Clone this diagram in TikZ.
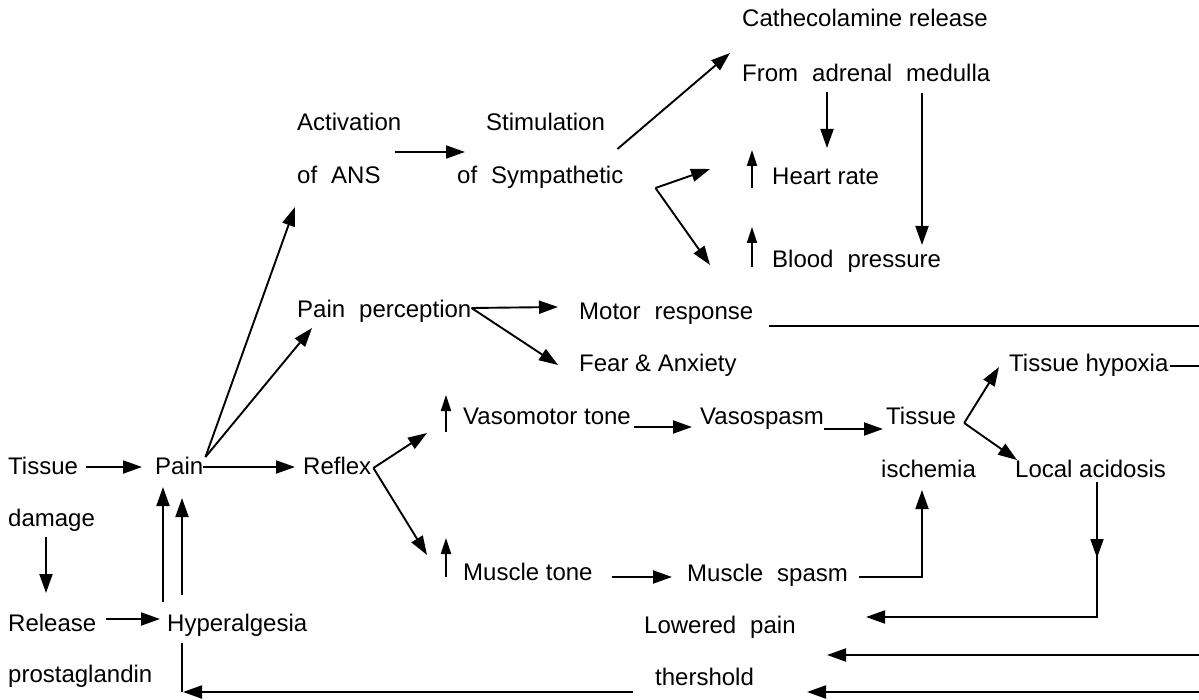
\documentclass[tikz,border=0pt]{standalone}
\usepackage{fontspec}
\setmainfont{Liberation Sans}
\usetikzlibrary{arrows.meta,calc}
\newcommand{\wsp}{\hspace{14pt}}
\begin{document}
\begin{tikzpicture}[x=1pt,y=-1pt,
  txt/.style={anchor=base west,inner sep=0pt,font=\fontsize{24pt}{28pt}\selectfont},
  ln/.style={line width=1.9pt},
  arr/.style={line width=1.9pt,-{Triangle[length=19pt,width=13pt]}},
  uparr/.style={line width=1.9pt,-{Triangle[length=16pt,width=10pt]}}]
\useasboundingbox (0,0) rectangle (1199,700);
% nodes
\node[txt] (tis1) at (8,474) {Tissue};
\node[txt] (pain) at (155,474) {Pain};
\node[txt] (reflex) at (303,474) {Reflex};
\node[txt] (damage) at (8,526) {damage};
\node[txt] (release) at (8,631) {Release};
\node[txt] (hyper) at (167,631) {Hyperalgesia};
\node[txt] (prosta) at (8,682) {prostaglandin};
\node[txt] (act) at (297,131) {Activation};
\node[txt] (stim) at (486,131) {Stimulation};
\node[txt] (ans) at (297,184) {of\wsp ANS};
\node[txt] (symp) at (457,184) {of\wsp Sympathetic};
\node[txt] (cat) at (742,27) {Cathecolamine release};
\node[txt] (from) at (742,82) {From\wsp adrenal\wsp medulla};
\node[txt] (heart) at (772,185) {Heart rate};
\node[txt] (blood) at (772,268) {Blood\wsp pressure};
\node[txt] (perc) at (297,318) {Pain\wsp perception};
\node[txt] (motor) at (579,320) {Motor\wsp response};
\node[txt] (fear) at (579,372) {Fear \& Anxiety};
\node[txt] (hyp) at (1009,372) {Tissue hypoxia};
\node[txt] (vaso) at (463,424) {Vasomotor tone};
\node[txt] (vspasm) at (700,424) {Vasospasm};
\node[txt] (tis2) at (886,424) {Tissue};
\node[txt] (isch) at (881,477) {ischemia};
\node[txt] (acid) at (1015,477) {Local acidosis};
\node[txt] (mtone) at (463,580) {Muscle tone};
\node[txt] (mspasm) at (687,581) {Muscle\wsp spasm};
\node[txt] (lowered) at (644,633) {Lowered\wsp pain};
\node[txt] (thresh) at (655,685) {thershold};
% free ends at the right margin
\coordinate (e1) at (1199,326);
\coordinate (e2) at (1199,366);
\coordinate (e3) at (1199,655);
\coordinate (e4) at (1199,692);
% branch points
\coordinate (P0) at ($(pain.base east)+(2,-17)$);
\coordinate (S0) at ($(symp.base east)+(32,4)$);
\coordinate (R0) at ($(reflex.base east)+(2,-6)$);
\coordinate (T0) at ($(tis2.base east)+(8,-1)$);
\coordinate (Q0) at ($(perc.base east)+(0,-10)$);
% connectors
\draw[arr] ($(tis1.base east)+(8,-7)$) -- ($(pain.base west)+(-13,-7)$);
\draw[arr] ($(pain.base east)+(0,-7)$) -- ($(reflex.base west)+(-8,-7)$);
\draw[arr] (P0) -- ($(ans.base west)+(-2,23)$);
\draw[arr] (P0) -- ($(perc.base west)+(15,10)$);
\draw[arr] ($(ans.base east)+(14,-32)$) -- ($(symp.base west)+(8,-32)$);
\draw[arr] ($(symp.base east)+(-6,-35)$) -- ($(from.base west)+(-12,-29)$);
\draw[arr] (S0) -- ($(heart.base west)+(-62,-16)$);
\draw[arr] (S0) -- ($(blood.base west)+(-62,-3)$);
\draw[arr] ($(from.base west)+(85,10)$) -- ($(heart.base west)+(55,-37)$);
\draw[arr] ($(from.base west)+(180,11)$) -- ($(blood.base west)+(150,-23)$);
\draw[uparr] ($(heart.base west)+(-20,3)$) -- ($(heart.base west)+(-20,-35)$);
\draw[uparr] ($(blood.base west)+(-20,-1)$) -- ($(blood.base west)+(-20,-41)$);
\draw[uparr] ($(vaso.base west)+(-17,8)$) -- ($(vaso.base west)+(-17,-29)$);
\draw[uparr] ($(mtone.base west)+(-17,-3)$) -- ($(mtone.base west)+(-17,-42)$);
\draw[arr] (Q0) -- ($(motor.base west)+(-21,-13)$);
\draw[arr] (Q0) -- ($(fear.base west)+(-21,-7)$);
\draw[ln] ($(motor.base east)+(16,6)$) -- (e1);
\draw[arr] (R0) -- ($(vaso.base west)+(-36,9)$);
\draw[arr] (R0) -- ($(mtone.base west)+(-36,-25)$);
\draw[arr] ($(vaso.base east)+(3,3)$) -- ($(vspasm.base west)+(-8,3)$);
\draw[arr] ($(vspasm.base east)+(0,5)$) -- ($(tis2.base west)+(-3,5)$);
\draw[arr] (T0) -- ($(hyp.base west)+(-10,-5)$);
\draw[arr] (T0) -- ($(acid.base west)+(2,-17)$);
\draw[ln] ($(hyp.base east)+(1,-6)$) -- (e2);
\draw[arr] ($(acid.base west)+(82,5)$) -- ($(acid.base west)+(82,81)$);
\draw[arr] ($(acid.base west)+(82,78)$) -- ($(acid.base west)+(82,140)$) -- ($(lowered.base west)+(222,-16)$);
\draw[arr] ($(mtone.base east)+(19,-3)$) -- ($(mspasm.base west)+(-15,-4)$);
\draw[arr] ($(mspasm.base east)+(11,-4)$) -| ($(isch.base west)+(41,13)$);
\draw[arr] (e3) -- ($(lowered.base west)+(183,22)$);
\draw[arr] (e4) -- ($(thresh.base west)+(152,7)$);
\draw[ln] ($(hyper.base west)+(15,12)$) -- ($(hyper.base west)+(15,61)$);
\draw[arr] ($(thresh.base west)+(-22,7)$) -- ($(hyper.base west)+(16,61)$);
\draw[arr] ($(damage.base west)+(38,11)$) -- ($(release.base west)+(38,-38)$);
\draw[arr] ($(release.base east)+(10,-12)$) -- ($(hyper.base west)+(-7,-12)$);
\draw[arr] ($(hyper.base west)+(-4,-29)$) -- ($(pain.base west)+(8,13)$);
\draw[arr] ($(hyper.base west)+(15,-36)$) -- ($(pain.base west)+(27,24)$);
\end{tikzpicture}
\end{document}
